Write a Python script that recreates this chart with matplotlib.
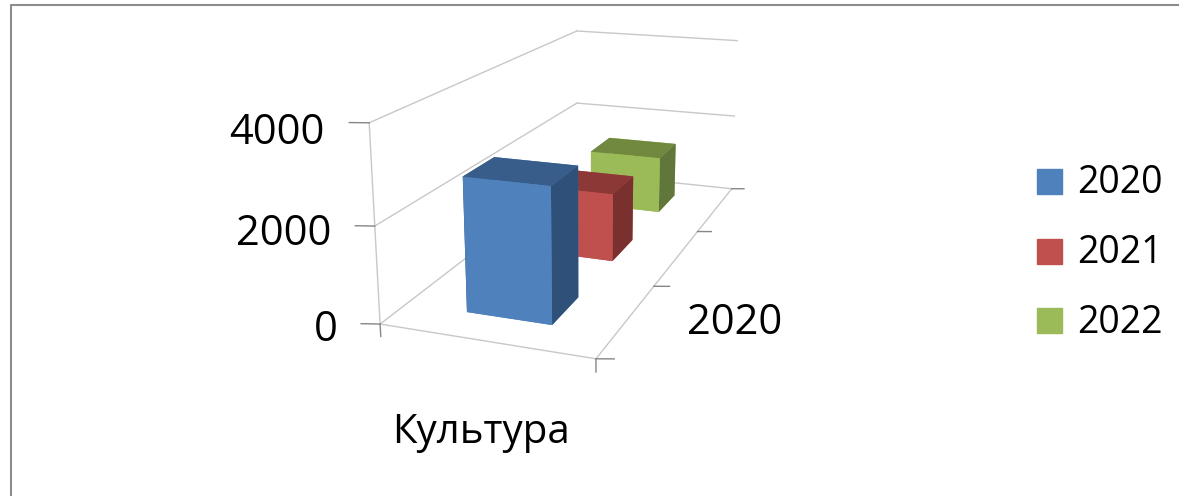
import matplotlib
matplotlib.use('Agg')
import matplotlib.pyplot as plt
from matplotlib.lines import Line2D
from matplotlib.patches import Rectangle

plt.rcParams['font.family'] = ['Open Sans', 'DejaVu Sans']

category = 'Культура'
series_label = '2020'
years = ['2020', '2021', '2022']
values = [2800, 1550, 1400]
front_colors = ['#4f81bd', '#c0504d', '#9bbb59']
top_colors = ['#385d8a', '#8c3836', '#71893f']
side_colors = ['#2f5078', '#7a302e', '#60763a']
z_ticks = [0, 2000, 4000]

W, H = 1179, 496
fig = plt.figure(figsize=(W / 100, H / 100), dpi=100)
ax = fig.add_axes([0.18, 0.16, 0.62, 1.0], projection='3d')
ax.set_proj_type('persp', focal_length=0.42)
ax.view_init(elev=16, azim=-70)
ax.set_box_aspect((1.06, 2.62, 0.96), zoom=1.08)
ax.set_axis_off()
ax.set_xlim(0, 1)
ax.set_ylim(0, 3)
ax.set_zlim(0, 4000)

grid = '#c8c8c8'
tick = '#868686'
for z in z_ticks:
    ax.plot([0, 0], [0, 3], [z, z], color=grid, lw=1)
    ax.plot([0, 1], [3, 3], [z, z], color=grid, lw=1)
ax.plot([0, 0], [0, 0], [0, 4000], color=grid, lw=1)
ax.plot([0, 1], [0, 0], [0, 0], color=grid, lw=1)
ax.plot([1, 1], [0, 3], [0, 0], color=grid, lw=1)

# short tick marks, nudged in y so they sit level on screen
for z in z_ticks:
    ax.plot([-0.08, 0], [-0.03, 0], [z, z], color=tick, lw=1)
for y in range(4):
    ax.plot([1, 1.07], [y, y + 0.03], [0, 0], color=tick, lw=1)
for x in [0, 1]:
    ax.plot([x, x], [0, 0], [0, -260], color=tick, lw=1)

for i, v in enumerate(values):
    face = [front_colors[i], top_colors[i], front_colors[i], front_colors[i], side_colors[i], side_colors[i]]
    ax.bar3d(0.3, i + 0.3, 0, 0.41, 0.4, v, color=face, shade=False, zsort='max')

for z in z_ticks:
    ax.text(-0.22, 0, z - 280, str(z), fontsize=30, ha='right', va='center')
ax.text(0.57, -0.25, -1370, category, fontsize=29, ha='center', va='center')
ax.text(1.22, 0.75, -300, series_label, fontsize=30, ha='left', va='center')

for i, y in enumerate(years):
    fig.add_artist(Rectangle((1037 / W, 1 - (194 + i * 69.5) / H), 25 / W, 25 / H,
                             transform=fig.transFigure, color=front_colors[i]))
    fig.text(1077 / W, 1 - (183 + i * 70) / H, y, fontsize=27, va='center')

fig.add_artist(Line2D([11 / W, 11 / W, 1], [0, 1 - 5 / H, 1 - 5 / H], transform=fig.transFigure,
                      color='#8c8c8c', lw=1.5))
fig.savefig('out.png', dpi=100)
